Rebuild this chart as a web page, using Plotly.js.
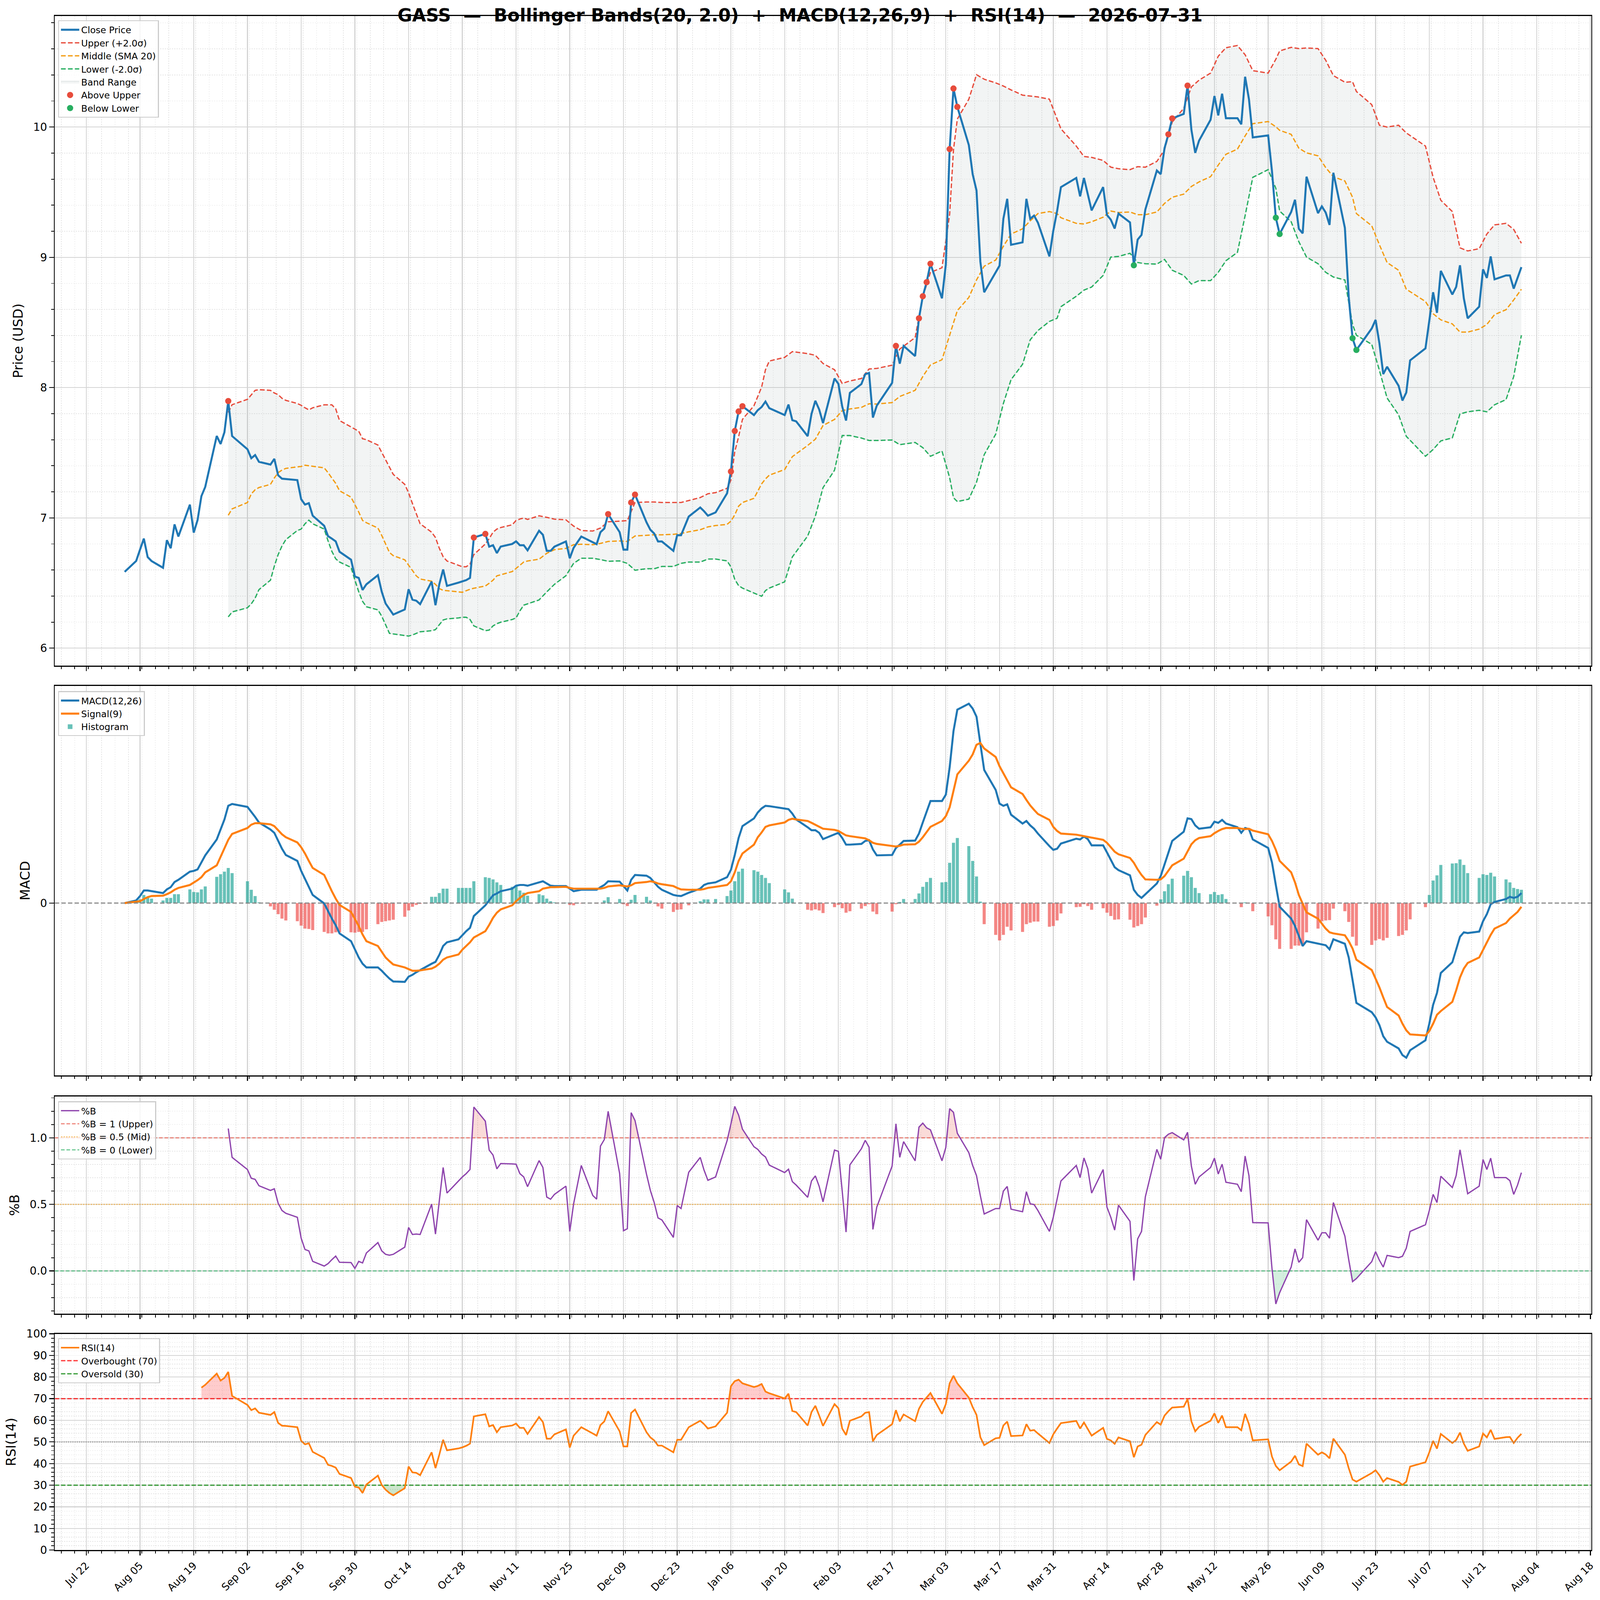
<!DOCTYPE html>
<html>
<head>
<meta charset="utf-8">
<script src="https://cdn.plot.ly/plotly-3.0.1.min.js"></script>
<style>
  html, body { margin: 0; padding: 0; background: #fff; overflow: hidden; }
</style>
</head>
<body>
<div id="chart"></div>
<script>
// trading calendar (weekdays minus exchange holidays)
var firstDay = '2025-08-01', lastDay = '2026-07-31';
var holidays = ['2025-09-01', '2025-11-27', '2025-12-25', '2026-01-01', '2026-01-19',
  '2026-02-16', '2026-04-03', '2026-05-25', '2026-06-19', '2026-07-03'];

// close price, one value per trading day
var close = [
  6.586, 6.669, 6.756, 6.841, 6.699, 6.669, 6.617, 6.829, 6.767, 6.950, 6.857, 7.102, 6.887, 6.983, 7.167, 7.238, 7.629, 7.567, 7.657, 7.897, 7.628, // Aug
  7.527, 7.458, 7.482, 7.430, 7.409, 7.453, 7.327, 7.301, 7.298, 7.290, 7.143, 7.102, 7.113, 7.017, 6.939, 6.860, 6.841, 6.820, 6.740, 6.679, 6.550, // Sep
  6.539, 6.447, 6.490, 6.560, 6.433, 6.343, 6.302, 6.258, 6.297, 6.452, 6.372, 6.364, 6.338, 6.511, 6.330, 6.490, 6.604, 6.478, 6.503, 6.514, 6.522, 6.539, 6.849, // Oct
  6.877, 6.779, 6.790, 6.730, 6.780, 6.800, 6.820, 6.790, 6.790, 6.751, 6.901, 6.870, 6.747, 6.747, 6.779, 6.819, 6.690, 6.770, 6.857, // Nov
  6.813, 6.798, 6.890, 6.918, 7.029, 6.890, 6.756, 6.756, 7.118, 7.179, 6.966, 6.909, 6.880, 6.819, 6.819, 6.747, 6.867, 6.867, 7.010, 7.080, 7.051, 7.017, // Dec
  7.042, 7.189, 7.356, 7.667, 7.817, 7.857, 7.789, 7.827, 7.851, 7.893, 7.842, 7.789, 7.870, 7.750, 7.741, 7.627, 7.798, 7.899, 7.832, 7.728, // Jan
  8.070, 8.029, 7.855, 7.747, 7.960, 8.027, 8.103, 8.112, 7.770, 7.861, 8.036, 8.320, 8.184, 8.320, 8.242, 8.532, 8.701, 8.809, 8.951, // Feb
  8.685, 8.944, 9.831, 10.296, 10.155, 9.861, 9.638, 9.513, 8.967, 8.732, 8.882, 8.936, 9.296, 9.449, 9.096, 9.115, 9.449, 9.296, 9.320, 9.266, 9.007, 9.202, // Mar
  9.355, 9.539, 9.609, 9.468, 9.609, 9.485, 9.360, 9.539, 9.325, 9.289, 9.221, 9.336, 9.268, 8.939, 9.136, 9.172, 9.367, 9.666, 9.638, 9.838, 9.944, // Apr
  10.066, 10.101, 10.318, 9.979, 9.802, 9.896, 10.056, 10.238, 10.089, 10.256, 10.068, 10.068, 10.021, 10.386, 10.214, 9.920, 9.936, 9.661, 9.304, 9.179, // May
  9.348, 9.442, 9.219, 9.184, 9.619, 9.339, 9.391, 9.344, 9.249, 9.649, 9.226, 8.696, 8.379, 8.289, 8.454, 8.520, 8.339, 8.104, 8.160, 8.014, 7.901, // Jun
  7.962, 8.209, 8.301, 8.513, 8.732, 8.574, 8.896, 8.715, 8.772, 8.939, 8.685, 8.532, 8.621, 8.908, 8.842, 9.007, 8.831, 8.861, 8.861, 8.760, 8.842, 8.925  // Jul
];

// bollinger bands, read at these dates
var bandDates = [
  '2025-08-28', '2025-08-29',
  '2025-09-02', '2025-09-03', '2025-09-04', '2025-09-05', '2025-09-08', '2025-09-09', '2025-09-10', '2025-09-11', '2025-09-12', '2025-09-15', '2025-09-16', '2025-09-17', '2025-09-18', '2025-09-19', '2025-09-22', '2025-09-23', '2025-09-24', '2025-09-25', '2025-09-26', '2025-09-29', '2025-09-30',
  '2025-10-01', '2025-10-02', '2025-10-03', '2025-10-06', '2025-10-07', '2025-10-08', '2025-10-09', '2025-10-10', '2025-10-13', '2025-10-14', '2025-10-15', '2025-10-16', '2025-10-17', '2025-10-20', '2025-10-21', '2025-10-22', '2025-10-23', '2025-10-24', '2025-10-27', '2025-10-28', '2025-10-29', '2025-10-30', '2025-10-31',
  '2025-11-03', '2025-11-04', '2025-11-05', '2025-11-06', '2025-11-07', '2025-11-10', '2025-11-11', '2025-11-12', '2025-11-13', '2025-11-14', '2025-11-17', '2025-11-19', '2025-11-21', '2025-11-24', '2025-11-26', '2025-11-28',
  '2025-12-01', '2025-12-03', '2025-12-05', '2025-12-08', '2025-12-10', '2025-12-12', '2025-12-15', '2025-12-17', '2025-12-19', '2025-12-22', '2025-12-24', '2025-12-26', '2025-12-29', '2025-12-31',
  '2026-01-02', '2026-01-05', '2026-01-06', '2026-01-07', '2026-01-08', '2026-01-09', '2026-01-12', '2026-01-14', '2026-01-15', '2026-01-16', '2026-01-20', '2026-01-22', '2026-01-26', '2026-01-28', '2026-01-30',
  '2026-02-02', '2026-02-04', '2026-02-06', '2026-02-09', '2026-02-11', '2026-02-13', '2026-02-17', '2026-02-19', '2026-02-23', '2026-02-25', '2026-02-27',
  '2026-03-02', '2026-03-04', '2026-03-05', '2026-03-06', '2026-03-09', '2026-03-11', '2026-03-13', '2026-03-16', '2026-03-18', '2026-03-20', '2026-03-23', '2026-03-25', '2026-03-27', '2026-03-30',
  '2026-04-01', '2026-04-02', '2026-04-06', '2026-04-08', '2026-04-10', '2026-04-13', '2026-04-15', '2026-04-17', '2026-04-20', '2026-04-22', '2026-04-24', '2026-04-27', '2026-04-29',
  '2026-05-01', '2026-05-04', '2026-05-06', '2026-05-08', '2026-05-11', '2026-05-13', '2026-05-15', '2026-05-18', '2026-05-20', '2026-05-22', '2026-05-26', '2026-05-28', '2026-05-29',
  '2026-06-01', '2026-06-03', '2026-06-05', '2026-06-08', '2026-06-10', '2026-06-12', '2026-06-15', '2026-06-17', '2026-06-18', '2026-06-22', '2026-06-24', '2026-06-26', '2026-06-29',
  '2026-07-01', '2026-07-06', '2026-07-08', '2026-07-10', '2026-07-13', '2026-07-15', '2026-07-17', '2026-07-20', '2026-07-22', '2026-07-24', '2026-07-27', '2026-07-29', '2026-07-31'
];
var bandUpper = [
  7.809, 7.869,
  7.910, 7.945, 7.979, 7.984, 7.979, 7.959, 7.946, 7.918, 7.902, 7.878, 7.864, 7.845, 7.829, 7.845, 7.868, 7.868, 7.868, 7.837, 7.747, 7.698, 7.682,
  7.665, 7.608, 7.600, 7.559, 7.502, 7.445, 7.388, 7.334, 7.257, 7.192, 7.110, 7.029, 6.955, 6.890, 6.849, 6.767, 6.702, 6.669, 6.637, 6.625, 6.625, 6.645, 6.718,
  6.800, 6.841, 6.890, 6.914, 6.926, 6.947, 6.980, 6.991, 6.999, 6.988, 7.016, 7.004, 6.990, 6.985, 6.937, 6.903,
  6.899, 6.922, 6.970, 6.975, 6.979, 7.118, 7.122, 7.122, 7.118, 7.118, 7.118, 7.133, 7.156, 7.185,
  7.194, 7.227, 7.290, 7.509, 7.623, 7.756, 7.861, 8.004, 8.137, 8.204, 8.232, 8.276, 8.261, 8.248, 8.185,
  8.137, 8.032, 8.051, 8.070, 8.143, 8.147, 8.172, 8.296, 8.384, 8.696, 8.885,
  8.920, 9.332, 9.826, 10.061, 10.214, 10.402, 10.367, 10.339, 10.315, 10.285, 10.245, 10.238, 10.231, 10.214,
  10.061, 9.986, 9.854, 9.774, 9.767, 9.744, 9.692, 9.680, 9.673, 9.696, 9.692, 9.736, 9.826,
  10.038, 10.144, 10.308, 10.360, 10.414, 10.544, 10.609, 10.626, 10.555, 10.433, 10.414, 10.520, 10.584,
  10.612, 10.602, 10.607, 10.602, 10.513, 10.395, 10.344, 10.348, 10.273, 10.172, 10.014, 10.000, 10.014,
  9.955, 9.854, 9.614, 9.438, 9.351, 9.073, 9.049, 9.066, 9.179, 9.249, 9.261, 9.214, 9.108
];
var bandMiddle = [
  7.020, 7.069,
  7.118, 7.184, 7.216, 7.233, 7.257, 7.306, 7.347, 7.367, 7.380, 7.391, 7.395, 7.404, 7.401, 7.396, 7.384, 7.347, 7.306, 7.265, 7.208, 7.159, 7.102,
  7.045, 6.980, 6.963, 6.922, 6.865, 6.800, 6.735, 6.710, 6.678, 6.637, 6.596, 6.555, 6.531, 6.514, 6.490, 6.457, 6.444, 6.441, 6.433, 6.429, 6.441, 6.452, 6.460,
  6.477, 6.498, 6.522, 6.555, 6.563, 6.588, 6.612, 6.637, 6.661, 6.669, 6.683, 6.728, 6.756, 6.766, 6.794, 6.798,
  6.794, 6.804, 6.819, 6.823, 6.819, 6.861, 6.867, 6.870, 6.870, 6.874, 6.880, 6.893, 6.909, 6.931,
  6.941, 6.950, 6.975, 7.023, 7.090, 7.118, 7.150, 7.261, 7.299, 7.328, 7.371, 7.470, 7.556, 7.604, 7.709,
  7.756, 7.823, 7.836, 7.848, 7.876, 7.874, 7.885, 7.932, 7.979, 8.085, 8.174,
  8.214, 8.402, 8.500, 8.591, 8.692, 8.826, 8.932, 8.979, 9.085, 9.179, 9.219, 9.280, 9.336, 9.351,
  9.336, 9.304, 9.261, 9.256, 9.273, 9.308, 9.355, 9.344, 9.348, 9.327, 9.327, 9.348, 9.414,
  9.461, 9.485, 9.544, 9.579, 9.619, 9.708, 9.791, 9.831, 9.932, 10.026, 10.042, 10.002, 9.975,
  9.944, 9.838, 9.802, 9.779, 9.689, 9.619, 9.586, 9.461, 9.336, 9.242, 9.096, 8.960, 8.901,
  8.755, 8.661, 8.567, 8.520, 8.489, 8.426, 8.426, 8.449, 8.485, 8.560, 8.598, 8.673, 8.755
];
var bandLower = [
  6.240, 6.278,
  6.310, 6.340, 6.384, 6.449, 6.522, 6.629, 6.718, 6.784, 6.833, 6.903, 6.914, 6.955, 6.983, 6.955, 6.914, 6.824, 6.743, 6.686, 6.661, 6.620, 6.522,
  6.433, 6.359, 6.318, 6.294, 6.245, 6.180, 6.114, 6.109, 6.098, 6.093, 6.101, 6.114, 6.126, 6.134, 6.142, 6.180, 6.216, 6.225, 6.232, 6.237, 6.237, 6.220, 6.171,
  6.134, 6.139, 6.171, 6.188, 6.199, 6.220, 6.232, 6.286, 6.330, 6.340, 6.370, 6.432, 6.490, 6.556, 6.651, 6.690,
  6.690, 6.680, 6.667, 6.670, 6.651, 6.598, 6.610, 6.610, 6.627, 6.627, 6.651, 6.661, 6.661, 6.684,
  6.684, 6.670, 6.623, 6.528, 6.480, 6.461, 6.423, 6.398, 6.442, 6.461, 6.509, 6.700, 6.861, 7.013, 7.232,
  7.366, 7.632, 7.632, 7.613, 7.594, 7.594, 7.598, 7.562, 7.579, 7.539, 7.473,
  7.513, 7.308, 7.155, 7.125, 7.144, 7.273, 7.485, 7.642, 7.878, 8.061, 8.179, 8.367, 8.438, 8.508,
  8.532, 8.621, 8.701, 8.748, 8.772, 8.861, 9.002, 9.007, 9.031, 8.960, 8.951, 8.948, 8.984,
  8.901, 8.861, 8.795, 8.821, 8.821, 8.885, 8.974, 9.038, 9.320, 9.614, 9.673, 9.530, 9.355,
  9.273, 9.120, 9.002, 8.951, 8.885, 8.849, 8.826, 8.485, 8.402, 8.332, 8.132, 7.920, 7.791,
  7.626, 7.473, 7.525, 7.591, 7.614, 7.798, 7.814, 7.826, 7.814, 7.868, 7.908, 8.085, 8.402
];

// band breakouts
var aboveDates = ['2025-08-28', '2025-10-31', '2025-11-03', '2025-12-05', '2025-12-11', '2025-12-12',
  '2026-01-06', '2026-01-07', '2026-01-08', '2026-01-09', '2026-02-18', '2026-02-24', '2026-02-25',
  '2026-02-26', '2026-02-27', '2026-03-04', '2026-03-05', '2026-03-06', '2026-04-30', '2026-05-01', '2026-05-05'];
var belowDates = ['2026-04-21', '2026-05-28', '2026-05-29', '2026-06-17', '2026-06-18'];

// MACD(12,26), signal(9), histogram: one value per trading day
var macd = [
  0.000, 0.007, 0.019, 0.034, 0.034, 0.032, 0.027, 0.037, 0.043, 0.057, 0.063, 0.085, 0.087, 0.091, 0.110, 0.129, 0.172, 0.199, 0.226, 0.263, 0.268,
  0.260, 0.247, 0.233, 0.218, 0.199, 0.190, 0.168, 0.147, 0.130, 0.114, 0.087, 0.066, 0.046, 0.022, -0.001, -0.022, -0.042, -0.060, -0.082, -0.103, -0.126,
  -0.147, -0.164, -0.174, -0.174, -0.183, -0.194, -0.204, -0.212, -0.213, -0.199, -0.194, -0.187, -0.181, -0.164, -0.159, -0.140, -0.116, -0.106, -0.098, -0.086, -0.076, -0.067, -0.035,
  -0.006, 0.007, 0.021, 0.026, 0.032, 0.039, 0.047, 0.049, 0.049, 0.047, 0.057, 0.059, 0.053, 0.047, 0.046, 0.046, 0.039, 0.032, 0.036,
  0.037, 0.036, 0.043, 0.049, 0.059, 0.058, 0.046, 0.034, 0.063, 0.076, 0.074, 0.068, 0.056, 0.044, 0.036, 0.022, 0.020, 0.019, 0.028, 0.039, 0.049, 0.053,
  0.056, 0.070, 0.090, 0.130, 0.176, 0.208, 0.229, 0.245, 0.256, 0.263, 0.262, 0.256, 0.254, 0.242, 0.226, 0.205, 0.197, 0.197, 0.190, 0.173,
  0.185, 0.190, 0.176, 0.158, 0.158, 0.160, 0.168, 0.170, 0.145, 0.129, 0.130, 0.149, 0.158, 0.168, 0.169, 0.188, 0.218, 0.247, 0.276,
  0.276, 0.293, 0.367, 0.465, 0.523, 0.539, 0.526, 0.504, 0.431, 0.360, 0.306, 0.269, 0.263, 0.267, 0.239, 0.215, 0.222, 0.210, 0.201, 0.188, 0.154, 0.144,
  0.147, 0.161, 0.174, 0.172, 0.180, 0.173, 0.156, 0.156, 0.137, 0.117, 0.097, 0.089, 0.075, 0.036, 0.022, 0.014, 0.024, 0.053, 0.073, 0.103, 0.136,
  0.168, 0.193, 0.229, 0.227, 0.210, 0.201, 0.205, 0.220, 0.217, 0.225, 0.215, 0.205, 0.190, 0.203, 0.200, 0.172, 0.149, 0.110, 0.049, -0.010,
  -0.042, -0.062, -0.089, -0.116, -0.103, -0.110, -0.112, -0.114, -0.125, -0.098, -0.110, -0.147, -0.208, -0.270, -0.295, -0.309, -0.330, -0.360, -0.375, -0.393, -0.411,
  -0.418, -0.398, -0.371, -0.326, -0.275, -0.243, -0.189, -0.160, -0.126, -0.091, -0.079, -0.081, -0.077, -0.049, -0.030, -0.003, 0.003, 0.011, 0.017, 0.014, 0.017, 0.027
];
var signal = [
  0.000, 0.003, 0.005, 0.011, 0.016, 0.019, 0.020, 0.024, 0.029, 0.036, 0.041, 0.049, 0.055, 0.062, 0.070, 0.083, 0.102, 0.124, 0.147, 0.171, 0.187,
  0.203, 0.212, 0.216, 0.216, 0.213, 0.208, 0.197, 0.186, 0.178, 0.164, 0.151, 0.134, 0.114, 0.095, 0.076, 0.053, 0.032, 0.012, -0.005, -0.024, -0.042,
  -0.062, -0.085, -0.103, -0.116, -0.132, -0.147, -0.157, -0.166, -0.174, -0.179, -0.183, -0.183, -0.182, -0.177, -0.172, -0.164, -0.153, -0.147, -0.139, -0.126, -0.116, -0.106, -0.093,
  -0.076, -0.059, -0.040, -0.026, -0.017, -0.006, 0.005, 0.014, 0.022, 0.027, 0.032, 0.039, 0.041, 0.043, 0.043, 0.044, 0.041, 0.039, 0.039,
  0.039, 0.038, 0.039, 0.041, 0.045, 0.048, 0.047, 0.045, 0.048, 0.054, 0.057, 0.059, 0.057, 0.053, 0.051, 0.046, 0.041, 0.037, 0.036, 0.036, 0.038, 0.041,
  0.044, 0.049, 0.059, 0.083, 0.114, 0.134, 0.158, 0.178, 0.191, 0.206, 0.210, 0.218, 0.225, 0.228, 0.226, 0.222, 0.217, 0.212, 0.207, 0.201,
  0.198, 0.195, 0.189, 0.183, 0.181, 0.176, 0.175, 0.170, 0.163, 0.160, 0.154, 0.153, 0.155, 0.158, 0.159, 0.166, 0.178, 0.191, 0.206,
  0.222, 0.235, 0.259, 0.303, 0.348, 0.385, 0.402, 0.428, 0.433, 0.418, 0.395, 0.370, 0.350, 0.332, 0.313, 0.295, 0.279, 0.264, 0.252, 0.241, 0.225, 0.206,
  0.195, 0.188, 0.185, 0.183, 0.180, 0.179, 0.176, 0.171, 0.163, 0.151, 0.139, 0.132, 0.122, 0.109, 0.091, 0.076, 0.064, 0.063, 0.064, 0.073, 0.087,
  0.102, 0.120, 0.141, 0.159, 0.170, 0.176, 0.181, 0.189, 0.195, 0.200, 0.203, 0.203, 0.201, 0.200, 0.201, 0.196, 0.186, 0.168, 0.144, 0.114,
  0.083, 0.056, 0.022, -0.003, -0.025, -0.042, -0.055, -0.069, -0.079, -0.082, -0.087, -0.103, -0.123, -0.153, -0.181, -0.204, -0.228, -0.255, -0.281, -0.304, -0.326,
  -0.344, -0.355, -0.358, -0.346, -0.326, -0.302, -0.292, -0.267, -0.236, -0.201, -0.177, -0.162, -0.147, -0.126, -0.106, -0.086, -0.069, -0.054, -0.042, -0.033, -0.024, -0.010
];
var hist = [
  0.000, 0.004, 0.010, 0.022, 0.017, 0.012, 0.007, 0.014, 0.014, 0.024, 0.024, 0.037, 0.030, 0.029, 0.037, 0.045, 0.071, 0.078, 0.085, 0.095, 0.081,
  0.059, 0.036, 0.019, 0.002, -0.009, -0.018, -0.030, -0.042, -0.047, -0.049, -0.061, -0.069, -0.070, -0.073, -0.078, -0.082, -0.082, -0.079, -0.079, -0.079, -0.080,
  -0.078, -0.078, -0.071, -0.057, -0.051, -0.049, -0.047, -0.045, -0.037, -0.020, -0.010, -0.005, -0.002, 0.017, 0.017, 0.027, 0.039, 0.039, 0.041, 0.041, 0.041, 0.041, 0.059,
  0.070, 0.068, 0.064, 0.056, 0.049, 0.044, 0.046, 0.034, 0.028, 0.020, 0.024, 0.021, 0.012, 0.005, 0.002, 0.001, -0.005, -0.006, -0.001,
  0.000, -0.001, 0.000, 0.007, 0.016, 0.011, -0.003, -0.008, 0.009, 0.022, 0.017, 0.007, -0.001, -0.009, -0.015, -0.024, -0.018, -0.017, -0.006, 0.005, 0.010, 0.010,
  0.011, 0.019, 0.034, 0.059, 0.085, 0.093, 0.089, 0.085, 0.076, 0.068, 0.054, 0.037, 0.029, 0.012, 0.000, -0.018, -0.020, -0.017, -0.020, -0.027,
  -0.011, -0.005, -0.014, -0.026, -0.022, -0.015, -0.008, -0.003, -0.023, -0.030, -0.023, -0.003, 0.003, 0.011, 0.011, 0.026, 0.044, 0.057, 0.068,
  0.056, 0.057, 0.109, 0.163, 0.176, 0.154, 0.114, 0.072, 0.004, -0.057, -0.086, -0.101, -0.086, -0.064, -0.074, -0.078, -0.057, -0.053, -0.050, -0.050, -0.064, -0.062,
  -0.047, -0.028, -0.011, -0.010, -0.003, -0.008, -0.018, -0.014, -0.026, -0.035, -0.045, -0.044, -0.045, -0.066, -0.062, -0.057, -0.039, -0.007, 0.010, 0.032, 0.051,
  0.066, 0.074, 0.087, 0.070, 0.041, 0.027, 0.024, 0.030, 0.022, 0.024, 0.011, 0.000, -0.011, 0.002, 0.000, -0.022, -0.036, -0.060, -0.098, -0.124,
  -0.124, -0.115, -0.115, -0.115, -0.079, -0.069, -0.049, -0.047, -0.046, -0.015, -0.022, -0.051, -0.091, -0.115, -0.113, -0.101, -0.097, -0.101, -0.094, -0.089, -0.086,
  -0.074, -0.044, -0.011, 0.022, 0.061, 0.075, 0.103, 0.107, 0.108, 0.118, 0.103, 0.081, 0.068, 0.078, 0.076, 0.082, 0.072, 0.064, 0.056, 0.041, 0.038, 0.036
];

// %B, starts 2025-08-28 (20th trading day)
var pctB = [
  1.070, 0.853,
  0.762, 0.696, 0.688, 0.640, 0.605, 0.617, 0.509, 0.454, 0.433, 0.403, 0.246, 0.161, 0.151, 0.072, 0.037, 0.055, 0.085, 0.112, 0.065, 0.063, 0.019,
  0.072, 0.060, 0.135, 0.213, 0.151, 0.125, 0.118, 0.125, 0.179, 0.327, 0.274, 0.277, 0.274, 0.502, 0.277, 0.526, 0.777, 0.585, 0.676, 0.706, 0.731, 0.762, 1.231,
  1.125, 0.908, 0.870, 0.767, 0.807, 0.804, 0.802, 0.731, 0.706, 0.633, 0.829, 0.777, 0.555, 0.539, 0.575, 0.637, 0.297, 0.504, 0.792,
  0.567, 0.539, 0.938, 0.987, 1.199, 0.731, 0.302, 0.317, 1.189, 1.130, 0.726, 0.605, 0.514, 0.398, 0.383, 0.252, 0.492, 0.469, 0.741, 0.853, 0.757, 0.681,
  0.706, 0.979, 1.105, 1.236, 1.171, 1.065, 0.933, 0.913, 0.878, 0.856, 0.795, 0.739, 0.764, 0.671, 0.645, 0.553, 0.676, 0.714, 0.635, 0.519,
  0.908, 0.898, 0.600, 0.292, 0.797, 0.918, 0.981, 0.930, 0.312, 0.479, 0.787, 1.105, 0.853, 0.971, 0.827, 1.080, 1.110, 1.075, 1.060,
  0.827, 0.928, 1.219, 1.191, 1.034, 0.888, 0.792, 0.716, 0.565, 0.428, 0.469, 0.469, 0.600, 0.635, 0.464, 0.445, 0.595, 0.504, 0.499, 0.454, 0.297, 0.403,
  0.544, 0.676, 0.792, 0.701, 0.849, 0.767, 0.585, 0.762, 0.479, 0.403, 0.307, 0.494, 0.373, -0.072, 0.241, 0.297, 0.557, 0.913, 0.839, 1.001, 1.027,
  1.039, 0.984, 1.041, 0.787, 0.651, 0.706, 0.777, 0.847, 0.728, 0.802, 0.666, 0.651, 0.595, 0.863, 0.716, 0.363, 0.361, 0.019, -0.248, -0.163,
  0.029, 0.166, 0.065, 0.100, 0.385, 0.231, 0.287, 0.287, 0.246, 0.514, 0.262, 0.085, -0.080, -0.057, 0.070, 0.145, 0.080, 0.029, 0.117, 0.100, 0.110,
  0.171, 0.297, 0.347, 0.454, 0.575, 0.514, 0.711, 0.627, 0.716, 0.910, 0.746, 0.580, 0.637, 0.837, 0.762, 0.847, 0.701, 0.701, 0.678, 0.575, 0.645, 0.738
];

// RSI(14), starts 2025-08-21 (15th trading day)
var rsi = [
  75.1, 76.4, 81.6, 78.4, 79.6, 82.4, 71.3,
  67.1, 64.7, 65.5, 63.5, 62.5, 63.8, 58.8, 57.5, 57.4, 56.8, 50.5, 48.9, 49.4, 45.4, 42.6, 39.4, 38.9, 38.1, 35.2, 33.3, 29.3,
  28.9, 26.4, 30.3, 34.4, 30.1, 27.9, 26.4, 25.3, 28.6, 38.6, 35.9, 35.7, 34.6, 45.2, 37.9, 44.1, 51.0, 46.1, 47.0, 47.5, 48.2, 49.2, 61.8,
  62.8, 57.2, 57.8, 54.5, 56.8, 57.6, 58.5, 56.5, 56.5, 53.7, 61.5, 59.2, 51.5, 51.5, 53.5, 55.8, 47.4, 52.9, 56.8,
  53.9, 52.9, 57.8, 59.5, 64.2, 54.9, 47.9, 47.9, 63.4, 65.0, 54.5, 52.1, 50.7, 48.3, 48.3, 45.2, 51.0, 51.0, 56.8, 59.8, 58.2, 56.2,
  57.2, 63.5, 75.8, 78.1, 78.8, 77.1, 75.4, 75.9, 76.8, 73.3, 72.5, 70.1, 72.3, 64.3, 63.8, 57.6, 63.8, 66.7, 62.2, 57.4,
  67.5, 65.6, 56.2, 53.2, 59.8, 61.8, 63.5, 63.8, 50.3, 53.2, 58.2, 64.7, 59.5, 62.7, 59.6, 65.3, 68.5, 70.5, 72.6,
  63.0, 67.5, 77.1, 80.6, 77.1, 70.5, 66.1, 62.5, 52.2, 48.5, 51.7, 51.9, 57.6, 59.4, 52.7, 53.0, 58.2, 55.2, 55.5, 53.9, 49.5, 53.5,
  56.2, 58.7, 59.7, 56.2, 59.0, 55.8, 52.9, 56.5, 51.4, 50.7, 49.1, 52.1, 50.3, 42.9, 47.9, 48.7, 53.2, 59.2, 58.0, 62.2, 64.2,
  65.9, 66.3, 69.8, 59.5, 54.9, 57.0, 59.8, 63.2, 58.8, 62.2, 56.8, 56.8, 55.4, 63.0, 58.2, 50.7, 51.2, 43.2, 38.9, 36.9,
  40.9, 43.6, 39.6, 38.8, 49.2, 44.1, 45.2, 44.2, 42.4, 51.5, 44.1, 37.9, 32.6, 31.6, 35.6, 36.9, 34.6, 31.6, 33.3, 31.5, 30.1,
  31.6, 38.6, 40.6, 45.2, 50.5, 46.9, 53.7, 49.5, 50.9, 54.3, 49.2, 45.9, 47.9, 53.9, 52.1, 55.6, 51.4, 52.2, 52.3, 49.5, 51.9, 53.7
];

var pctBLevels = [1, 0.5, 0];
var rsiLevels = [70, 50, 30];

var DAY = 86400000;
function ms(s) { var p = s.split('-'); return Date.UTC(+p[0], p[1] - 1, +p[2]); }

function tradingDays(a, b, skip) {
  var out = [];
  for (var t = ms(a); t <= ms(b); t += DAY) {
    var d = new Date(t), wd = d.getUTCDay();
    if (wd === 0 || wd === 6) continue;
    if (skip.indexOf(d.toISOString().slice(0, 10)) >= 0) continue;
    out.push(t);
  }
  return out;
}

var days = tradingDays(firstDay, lastDay, holidays);
var pctBDays = days.slice(days.length - pctB.length);
var rsiDays = days.slice(days.length - rsi.length);
var bandX = bandDates.map(ms);
if (close.length !== days.length || macd.length !== days.length || signal.length !== days.length || hist.length !== days.length) {
  console.log('length mismatch', days.length, close.length, macd.length, signal.length, hist.length);
}

function closeAt(s) { return close[days.indexOf(ms(s))]; }

// x range: data span plus 5% each side
var span = days[days.length - 1] - days[0];
var xRange = [days[0] - 0.05 * span, days[days.length - 1] + 0.05 * span];

// the page is laid out on a 4378 x 4322 grid, scaled to whatever viewport we get
var W = window.innerWidth || 4378, H = window.innerHeight || 4322;
var S = Math.min(W / 4378, H / 4322);
function px(v) { return v * S; }
function dash(a, b) { return px(a).toFixed(2) + 'px,' + px(b).toFixed(2) + 'px'; }

// fill between a series and a level, only on one side
function sideFill(x, y, level, above, color, xa, ya) {
  var fx = [], fy = [];
  for (var i = 0; i < y.length; i++) {
    if (i > 0) {
      var a = y[i - 1] - level, b = y[i] - level;
      if (a * b < 0) {
        fx.push(x[i - 1] + a / (a - b) * (x[i] - x[i - 1]));
        fy.push(level);
      }
    }
    fx.push(x[i]);
    fy.push(above ? Math.max(y[i], level) : Math.min(y[i], level));
  }
  return [
    {x: fx, y: fx.map(function () { return level; }), xaxis: xa, yaxis: ya, mode: 'lines',
     line: {width: 0}, showlegend: false, hoverinfo: 'skip'},
    {x: fx, y: fy, xaxis: xa, yaxis: ya, mode: 'lines', line: {width: 0},
     fill: 'tonexty', fillcolor: color, showlegend: false, hoverinfo: 'skip'}
  ];
}

var traces = [];

// ---- panel 1: price + bands
traces.push({x: bandX, y: bandUpper, mode: 'lines', line: {width: 0}, showlegend: false, hoverinfo: 'skip'});
traces.push({x: bandX, y: bandLower, mode: 'lines', line: {width: px(1.5), color: 'rgba(149,165,166,0.3)'}, fill: 'tonexty',
  fillcolor: 'rgba(149,165,166,0.12)', name: 'Band Range', legendrank: 5});
traces.push({x: bandX, y: bandUpper, mode: 'lines', name: 'Upper (+2.0σ)', legendrank: 2,
  line: {color: '#e74c3c', width: px(3.5), dash: dash(13, 6)}});
traces.push({x: bandX, y: bandMiddle, mode: 'lines', name: 'Middle (SMA 20)', legendrank: 3,
  line: {color: '#f39c12', width: px(3.5), dash: dash(13, 6)}});
traces.push({x: bandX, y: bandLower, mode: 'lines', name: 'Lower (-2.0σ)', legendrank: 4,
  line: {color: '#27ae60', width: px(3.5), dash: dash(13, 6)}});
traces.push({x: days, y: close, mode: 'lines', name: 'Close Price', legendrank: 1,
  line: {color: '#1f77b4', width: px(5.5)}});
traces.push({x: aboveDates.map(ms), y: aboveDates.map(closeAt), mode: 'markers', name: 'Above Upper', legendrank: 6,
  marker: {color: '#e74c3c', size: px(17)}});
traces.push({x: belowDates.map(ms), y: belowDates.map(closeAt), mode: 'markers', name: 'Below Lower', legendrank: 7,
  marker: {color: '#27ae60', size: px(17)}});

// ---- panel 2: MACD
traces.push({x: days, y: hist, type: 'bar', xaxis: 'x2', yaxis: 'y2', name: 'Histogram', legend: 'legend2',
  legendrank: 3, width: 0.8 * DAY,
  marker: {color: hist.map(function (v) { return v >= 0 ? 'rgba(38,166,154,0.7)' : 'rgba(239,83,80,0.7)'; }), line: {width: 0}}});
traces.push({x: days, y: macd, mode: 'lines', xaxis: 'x2', yaxis: 'y2', name: 'MACD(12,26)', legend: 'legend2',
  legendrank: 1, line: {color: '#1f77b4', width: px(5.5)}});
traces.push({x: days, y: signal, mode: 'lines', xaxis: 'x2', yaxis: 'y2', name: 'Signal(9)', legend: 'legend2',
  legendrank: 2, line: {color: '#ff7f0e', width: px(5.5)}});

// ---- panel 3: %B
traces = traces.concat(sideFill(pctBDays, pctB, pctBLevels[0], true, 'rgba(231,76,60,0.2)', 'x3', 'y3'));
traces = traces.concat(sideFill(pctBDays, pctB, pctBLevels[2], false, 'rgba(39,174,96,0.2)', 'x3', 'y3'));
var pctBRefs = [
  {name: '%B = 1 (Upper)', color: 'rgba(231,76,60,0.7)', dash: dash(10, 5)},
  {name: '%B = 0.5 (Mid)', color: 'rgba(243,156,18,0.6)', dash: dash(4, 3)},
  {name: '%B = 0 (Lower)', color: 'rgba(39,174,96,0.7)', dash: dash(10, 5)}
];
pctBRefs.forEach(function (r, i) {
  traces.push({x: xRange, y: [pctBLevels[i], pctBLevels[i]], mode: 'lines', xaxis: 'x3', yaxis: 'y3',
    name: r.name, legend: 'legend3', legendrank: i + 2, line: {color: r.color, width: px(3), dash: r.dash}});
});
traces.push({x: pctBDays, y: pctB, mode: 'lines', xaxis: 'x3', yaxis: 'y3', name: '%B', legend: 'legend3',
  legendrank: 1, line: {color: '#8e44ad', width: px(3.5)}});

// ---- panel 4: RSI
traces = traces.concat(sideFill(rsiDays, rsi, rsiLevels[0], true, 'rgba(255,0,0,0.2)', 'x4', 'y4'));
traces = traces.concat(sideFill(rsiDays, rsi, rsiLevels[2], false, 'rgba(0,128,0,0.2)', 'x4', 'y4'));
traces.push({x: xRange, y: [rsiLevels[0], rsiLevels[0]], mode: 'lines', xaxis: 'x4', yaxis: 'y4',
  name: 'Overbought (70)', legend: 'legend4', legendrank: 2,
  line: {color: 'rgba(255,0,0,0.75)', width: px(3.5), dash: dash(12, 5)}});
traces.push({x: xRange, y: [rsiLevels[2], rsiLevels[2]], mode: 'lines', xaxis: 'x4', yaxis: 'y4',
  name: 'Oversold (30)', legend: 'legend4', legendrank: 3,
  line: {color: 'rgba(0,128,0,0.75)', width: px(3.5), dash: dash(12, 5)}});
traces.push({x: rsiDays, y: rsi, mode: 'lines', xaxis: 'x4', yaxis: 'y4', name: 'RSI(14)', legend: 'legend4',
  legendrank: 1, line: {color: '#ff7f0e', width: px(4.5)}});

// ---- layout
var FONT = 'DejaVu Sans, sans-serif';
var xDomain = [150 / 4378, 4354 / 4378];

function xAxis(anchor, labels) {
  return {
    type: 'date', domain: xDomain, anchor: anchor, range: xRange,
    tick0: '2025-07-22', dtick: 14 * DAY, tickformat: '%b %d', tickangle: -45,
    showticklabels: labels, ticks: 'outside', ticklen: px(12), tickwidth: px(2.5), tickcolor: '#000',
    showgrid: true, gridcolor: '#d4d4d4', gridwidth: px(2.5),
    minor: {dtick: 3.5 * DAY, ticks: 'outside', ticklen: px(7), tickwidth: px(2), tickcolor: '#000',
      showgrid: true, gridcolor: '#e4e4e4', gridwidth: px(1.5), griddash: 'dot'},
    showline: true, mirror: true, linecolor: '#000', linewidth: px(3), zeroline: false,
    tickfont: {family: FONT, size: px(28), color: '#000'}
  };
}

function yAxis(anchor, domain, range, title, extra) {
  var ax = {
    domain: domain, anchor: anchor, range: range,
    ticks: 'outside', ticklen: px(12), tickwidth: px(2.5), tickcolor: '#000',
    showgrid: true, gridcolor: '#d4d4d4', gridwidth: px(2.5),
    showline: true, mirror: true, linecolor: '#000', linewidth: px(3), zeroline: false,
    tickfont: {family: FONT, size: px(30), color: '#000'},
    title: {text: title, font: {family: FONT, size: px(36), color: '#000'}, standoff: px(18)}
  };
  for (var k in extra) ax[k] = extra[k];
  return ax;
}

function minorGrid(step) {
  return {dtick: step, ticks: 'outside', ticklen: px(7), tickwidth: px(2), tickcolor: '#000',
    showgrid: true, gridcolor: '#e4e4e4', gridwidth: px(1.5), griddash: 'dot'};
}

function legendAt(top) {
  return {x: 159 / 4378, xanchor: 'left', y: 1 - top / 4322, yanchor: 'top', traceorder: 'normal',
    bgcolor: 'rgba(255,255,255,0.8)', bordercolor: '#cccccc', borderwidth: px(2.5),
    font: {family: FONT, size: px(25), color: '#000'}, itemwidth: Math.max(30, px(50)), tracegroupgap: 0};
}

var layout = {
  width: W, height: H,
  margin: {l: 0, r: 0, t: 0, b: 0},
  paper_bgcolor: '#fff', plot_bgcolor: '#fff',
  showlegend: true, hovermode: false,
  title: {
    text: '<b>GASS\u00a0 —\u00a0 Bollinger Bands(20, 2.0)\u00a0 +\u00a0 MACD(12,26,9)\u00a0 +\u00a0 RSI(14)\u00a0 —\u00a0 2026-07-31</b>',
    x: 0.5, xanchor: 'center', y: 1 - 41 / 4322, yanchor: 'middle',
    font: {family: FONT, size: px(49), color: '#000'}
  },
  xaxis: xAxis('y', false),
  xaxis2: xAxis('y2', false),
  xaxis3: xAxis('y3', false),
  xaxis4: xAxis('y4', true),
  yaxis: yAxis('x', [1 - 1798 / 4322, 1 - 43 / 4322], [5.866, 10.853], 'Price (USD)',
    {tick0: 0, dtick: 1, minor: minorGrid(0.2)}),
  yaxis2: yAxis('x2', [1 - 2905 / 4322, 1 - 1853 / 4322], [-0.466, 0.587], 'MACD',
    {tickvals: [0], ticktext: ['0'], showgrid: false}),
  yaxis3: yAxis('x3', [1 - 3549 / 4322, 1 - 2962 / 4322], [-0.322, 1.310], '%B',
    {tick0: 0, dtick: 0.5, tickformat: '.1f', minor: minorGrid(0.1)}),
  yaxis4: yAxis('x4', [1 - 4187 / 4322, 1 - 3603 / 4322], [0, 100], 'RSI(14)',
    {tick0: 0, dtick: 10, minor: minorGrid(2)}),
  legend: legendAt(55),
  legend2: legendAt(1867),
  legend3: legendAt(2975),
  legend4: legendAt(3615),
  shapes: [
    {type: 'line', xref: 'x2 domain', x0: 0, x1: 1, yref: 'y2', y0: 0, y1: 0,
     line: {color: 'rgba(128,128,128,0.85)', width: px(3.5), dash: dash(12, 6)}},
    {type: 'line', xref: 'x4 domain', x0: 0, x1: 1, yref: 'y4', y0: rsiLevels[1], y1: rsiLevels[1],
     line: {color: 'rgba(128,128,128,0.8)', width: px(3), dash: dash(3, 3)}}
  ]
};

var el = document.getElementById('chart');
el.style.width = W + 'px';
el.style.height = H + 'px';
Plotly.newPlot(el, traces, layout, {staticPlot: true, displayModeBar: false});
</script>
</body>
</html>
